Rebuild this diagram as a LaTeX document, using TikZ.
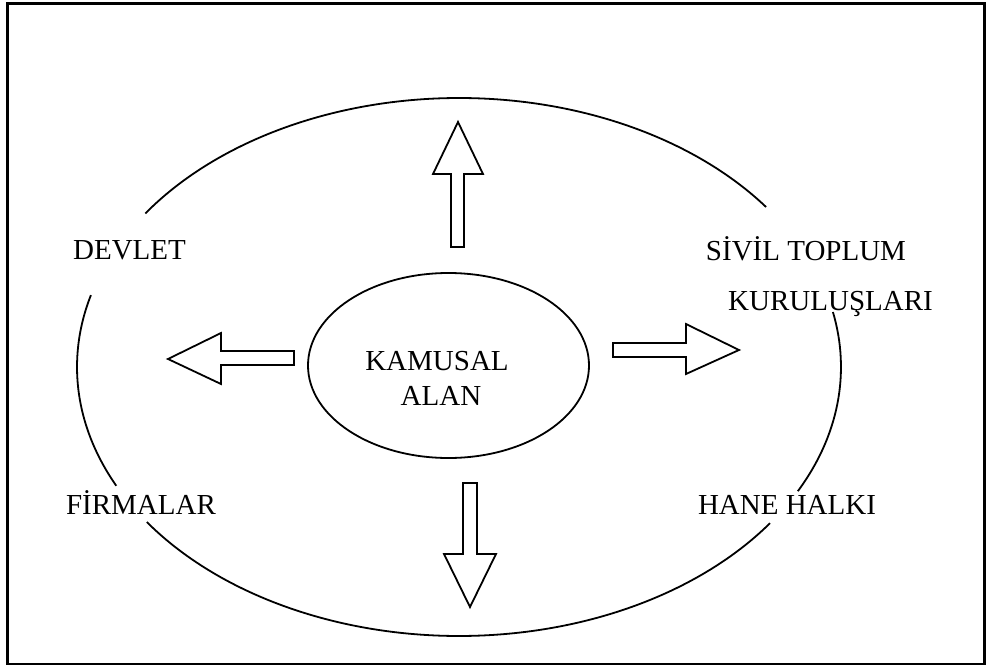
\documentclass[tikz,border=0pt]{standalone}
\usepackage{fontspec}
\setmainfont{Liberation Serif}
\usetikzlibrary{shapes.geometric}
\tikzset{
  labeltext/.style={font=\fontsize{14.5}{17}\selectfont, inner sep=0pt, anchor=base},
  thinline/.style={line width=0.9pt},
  blockarrow/.style={draw, line width=0.9pt, line join=miter},
}
\begin{document}
\begin{tikzpicture}[x=0.5pt,y=0.5pt]
	\useasboundingbox (0,0) rectangle (986,666);
	\draw[line width=1.1pt] (7.5,2) rectangle (984.5,662.5); %outer frame
	%big ellipse, broken where the four labels sit
	\draw[thinline] (459,299) ++(36.5:382 and 269) arc[start angle=36.5,end angle=145.2,x radius=382,y radius=269];
	\draw[thinline] (459,299) ++(164.5:382 and 269) arc[start angle=164.5,end angle=206.2,x radius=382,y radius=269];
	\draw[thinline] (459,299) ++(215.2:382 and 269) arc[start angle=215.2,end angle=324.5,x radius=382,y radius=269];
	\draw[thinline] (459,299) ++(332.5:382 and 269) arc[start angle=332.5,end angle=371.8,x radius=382,y radius=269];
	\node[labeltext] (devlet) at (129.5,407) {DEVLET};
	\node[labeltext] (sivil) at (806,406) {SİVİL TOPLUM};
	\node[labeltext] (kurulus) at (830.5,356) {KURULUŞLARI};
	\node[labeltext] (firmalar) at (141,152) {FİRMALAR};
	\node[labeltext] (hane) at (787,152) {HANE HALKI};
	%centre
	\node[draw, ellipse, thinline, minimum width=140.5pt, minimum height=92.5pt, inner sep=0pt] (kamusal) at (448.5,300.5) {};
	\node[labeltext] (kamusalust) at (437,296) {KAMUSAL};
	\node[labeltext] (alan) at (441,261) {ALAN};
	%four hollow arrows
	\draw[blockarrow] (451,419) -- (451,492) -- (433,492) -- (458,544) -- (483,492) -- (464,492) -- (464,419) -- cycle; %up
	\draw[blockarrow] (463,183) -- (463,112) -- (444,112) -- (470,59) -- (496,112) -- (477,112) -- (477,183) -- cycle; %down
	\draw[blockarrow] (294,315) -- (221,315) -- (221,333) -- (168,307) -- (221,282) -- (221,301) -- (294,301) -- cycle; %left
	\draw[blockarrow] (613,323) -- (686,323) -- (686,342) -- (739,316) -- (686,292) -- (686,309) -- (613,309) -- cycle; %right
\end{tikzpicture}
\end{document}
